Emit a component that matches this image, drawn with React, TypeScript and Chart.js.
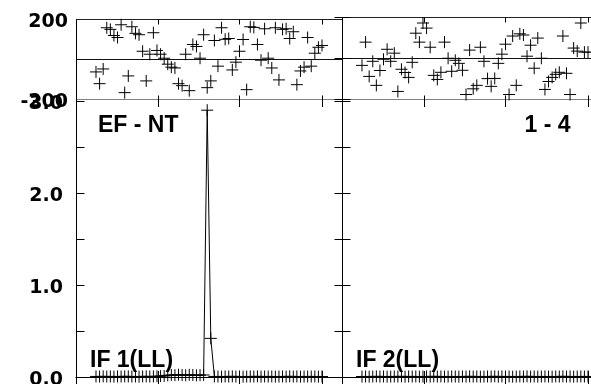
import React, { useEffect, useRef } from "react";
import { Chart, registerables } from "chart.js";

Chart.register(...registerables);

// ---------------- data ----------------
const CHANNELS: number[] = Array.from({ length: 64 }, (_, i) => i);

// IF 1 (left panel) phase in degrees, one value per channel
const PHASE_IF1: number[] = [
  -64, -123, -49, 158, 150, 119, 109, 173, -168, -84,
  163, 130, 123, 40, -109, 25, 133, 44, 25, 5,
  -25, -40, -44, -123, -133, 25, -158, 74, 64, 5,
  123, -143, -109, 94, -35, 158, 100, 104, -54, -15,
  40, 99, -153, 163, 160, 74, -5, 153, 5, -44,
  158, -104, 150, 153, 104, 138, -128, -59, -40, 109,
  -35, 30, 60, 69,
];

// IF 1 amplitude
const AMP_IF1: number[] = [
  0.006, 0.005, 0.007, 0.005, 0.006, 0.004, 0.006, 0.005, 0.007, 0.006,
  0.005, 0.006, 0.004, 0.006, 0.007, 0.005, 0.006, 0.008, 0.01, 0.012,
  0.018, 0.022, 0.02, 0.025, 0.021, 0.019, 0.024, 0.022, 0.018, 0.02,
  0.022, 2.9, 0.42, 0.006, 0.005, 0.004, 0.006, 0.005, 0.007, 0.005,
  0.006, 0.004, 0.005, 0.006, 0.005, 0.007, 0.004, 0.006, 0.005, 0.006,
  0.004, 0.005, 0.006, 0.005, 0.007, 0.005, 0.006, 0.004, 0.005, 0.006,
  0.005, 0.006, 0.004, 0.005,
];

// IF 2 (right panel) phase in degrees
const PHASE_IF2: number[] = [
  -35, 79, -89, -15, -133, -60, -5, 44, -15, 25,
  -163, -54, -70, -94, -20, 123, 79, 173, 148, 54,
  -84, -104, -69, 79, 0, -64, -10, -25, -59, -178,
  40, -150, -133, 54, -15, -100, -138, -99, -25, 20,
  69, -178, 109, -133, 120, 114, 10, 64, -49, 99,
  0, -153, -114, -94, -79, -69, 109, -74, -178, 50,
  35, 173, 30, 30,
];

// IF 2 amplitude
const AMP_IF2: number[] = [
  0.005, 0.006, 0.004, 0.005, 0.007, 0.005, 0.006, 0.004, 0.005, 0.006,
  0.005, 0.007, 0.004, 0.006, 0.005, 0.006, 0.004, 0.005, 0.006, 0.005,
  0.007, 0.005, 0.006, 0.004, 0.005, 0.006, 0.005, 0.004, 0.006, 0.005,
  0.007, 0.005, 0.006, 0.004, 0.005, 0.006, 0.005, 0.007, 0.004, 0.006,
  0.005, 0.006, 0.004, 0.005, 0.006, 0.005, 0.007, 0.005, 0.006, 0.004,
  0.005, 0.006, 0.005, 0.004, 0.006, 0.005, 0.007, 0.005, 0.006, 0.004,
  0.005, 0.006, 0.005, 0.006,
];

const PHASE_TICKS: number[] = [-200, 0, 200];
const PHASE_LABEL_TICKS: number[] = [-200, 200];
const AMP_TICKS: number[] = [0, 0.5, 1, 1.5, 2, 2.5, 3];
const AMP_LABEL_TICKS: number[] = [0, 1, 2, 3];
const CHANNEL_TICKS: number[] = [17.3, 40.1, 63];
const BASELINE_LABELS: string[] = ["EF - NT", "1 - 4"];
const IF_LABELS: string[] = ["IF 1(LL)", "IF 2(LL)"];

// ---------------- layout ----------------
const CANVAS_W = 620;
const CANVAS_H = 420;
const PANEL_X = [76, 342, 608];
const PHASE_TOP_PX = 17.5;
const PHASE_BOTTOM_PX = 99;
const AMP_TOP_PX = 101;
const AMP_ZERO_PX = 377;
const X_MIN = -5.575;
const X_MAX = 68.575;

const TICK_FONT = { family: "'DejaVu Sans', sans-serif", size: 19, weight: "bold" as const };
const LABEL_FONT = "bold 23px 'Liberation Sans', Arial, sans-serif";

const snap = (v: number) => Math.round(v - 0.5) + 0.5;

type Kind = "phase" | "amp";

function framePlugin(kind: Kind, side: number) {
  return {
    id: "frame" + kind + side,
    beforeDatasetsDraw(chart: any) {
      const { ctx, chartArea: a, scales } = chart;
      const x = scales.x;
      const y = scales.y;
      ctx.save();
      ctx.lineWidth = 1;
      const line = (x1: number, y1: number, x2: number, y2: number, color = "#000") => {
        ctx.strokeStyle = color;
        ctx.beginPath();
        ctx.moveTo(x1, y1);
        ctx.lineTo(x2, y2);
        ctx.stroke();
      };
      const xa = snap(a.left);
      if (kind === "phase") {
        const yT = snap(y.getPixelForValue(200));
        const y0 = snap(y.getPixelForValue(0));
        const yB = snap(y.getPixelForValue(-200));
        line(a.left, yT, a.right, yT, "#222");
        line(a.left, y0, a.right, y0, "#111");
        line(a.left, yB, a.right, yB, "#808080");
        line(xa, yT, xa, yB + 1, "#000");
        if (side === 1) {
          PHASE_TICKS.forEach((v) => {
            const py = snap(y.getPixelForValue(v));
            line(xa - 8, py, xa + 8, py);
          });
        }
        CHANNEL_TICKS.forEach((c) => {
          const px = snap(x.getPixelForValue(c));
          line(px, yT, px, yT + 5);
          line(px, yB - 4, px, yB);
        });
      } else {
        line(xa, a.top - 2, xa, CANVAS_H);
        AMP_TICKS.forEach((v) => {
          const py = snap(y.getPixelForValue(v));
          if (side === 0) line(xa - (v === 0 ? 1 : 0), py, xa + 8, py);
          else line(xa - 8, py, xa + 8, py);
        });
        const yz = snap(y.getPixelForValue(0));
        line(a.left, yz, a.right, yz, "#000");
        CHANNEL_TICKS.forEach((c) => {
          const px = snap(x.getPixelForValue(c));
          line(px, a.top - 2, px, a.top + 6);
          line(px, a.bottom - 6, px, CANVAS_H);
        });
      }
      ctx.restore();
    },
    afterDraw(chart: any) {
      if (kind !== "amp") return;
      const { ctx, chartArea: a } = chart;
      ctx.save();
      ctx.fillStyle = "#000";
      ctx.font = LABEL_FONT;
      ctx.textBaseline = "alphabetic";
      if (side === 0) {
        ctx.textAlign = "left";
        ctx.fillText(BASELINE_LABELS[0], a.left + 22, a.top + 30.5);
      } else {
        ctx.textAlign = "right";
        ctx.fillText(BASELINE_LABELS[1], a.right - 37.5, a.top + 30.5);
      }
      ctx.textAlign = "left";
      ctx.fillText(IF_LABELS[side], a.left + 14, a.bottom - 10);
      ctx.restore();
    },
  };
}

function buildChart(canvas: HTMLCanvasElement, kind: Kind, side: number, values: number[]) {
  const isPhase = kind === "phase";
  const padLeft = side === 0 ? 0 : PANEL_X[1];
  const padRight = CANVAS_W - PANEL_X[side + 1];
  const padTop = isPhase ? PHASE_TOP_PX : AMP_TOP_PX;
  const padBottom = CANVAS_H - (isPhase ? PHASE_BOTTOM_PX : AMP_ZERO_PX);
  const labelTicks = isPhase ? PHASE_LABEL_TICKS : AMP_LABEL_TICKS;
  return new Chart(canvas, {
    type: "scatter",
    data: {
      datasets: [
        {
          data: values.map((v, i) => ({ x: CHANNELS[i], y: v })),
          showLine: !isPhase,
          borderColor: "#000",
          borderWidth: 1,
          pointStyle: "cross",
          pointRadius: 6,
          pointHoverRadius: 6,
          pointBorderColor: "#000",
          pointBackgroundColor: "#000",
          pointBorderWidth: 1,
          clip: false,
        } as any,
      ],
    },
    options: {
      responsive: false,
      animation: false,
      events: [],
      layout: { padding: { left: padLeft, right: padRight, top: padTop, bottom: padBottom } },
      plugins: { legend: { display: false }, tooltip: { enabled: false } },
      scales: {
        x: { type: "linear", min: X_MIN, max: X_MAX, display: false },
        y: {
          type: "linear",
          position: "left",
          display: side === 0,
          min: isPhase ? -200 : 0,
          max: isPhase ? 200 : 3,
          afterBuildTicks: (s: any) => {
            s.ticks = labelTicks.map((v) => ({ value: v }));
          },
          afterFit: (s: any) => {
            s.width = side === 0 ? PANEL_X[0] : 0;
          },
          grid: { display: false, drawTicks: false },
          border: { display: false },
          ticks: {
            font: TICK_FONT,
            color: "#000",
            padding: isPhase ? 8 : 13,
            labelOffset: 3,
            autoSkip: false,
            callback: (v: any) => (isPhase ? String(v) : Number(v).toFixed(1)),
          },
        },
      },
    } as any,
    plugins: [framePlugin(kind, side)],
  });
}

export default function App() {
  const r1 = useRef<HTMLCanvasElement>(null);
  const r2 = useRef<HTMLCanvasElement>(null);
  const r3 = useRef<HTMLCanvasElement>(null);
  const r4 = useRef<HTMLCanvasElement>(null);

  useEffect(() => {
    const charts = [
      buildChart(r1.current!, "phase", 0, PHASE_IF1),
      buildChart(r2.current!, "phase", 1, PHASE_IF2),
      buildChart(r3.current!, "amp", 0, AMP_IF1),
      buildChart(r4.current!, "amp", 1, AMP_IF2),
    ];
    return () => charts.forEach((c) => c.destroy());
  }, []);

  const cs: React.CSSProperties = { position: "absolute", left: 0, top: 0 };
  return (
    <div
      style={{
        position: "fixed",
        left: 0,
        top: 0,
        width: 591,
        height: 384,
        overflow: "hidden",
        background: "#fff",
      }}
    >
      <canvas ref={r1} width={CANVAS_W} height={CANVAS_H} style={cs} />
      <canvas ref={r2} width={CANVAS_W} height={CANVAS_H} style={cs} />
      <canvas ref={r3} width={CANVAS_W} height={CANVAS_H} style={cs} />
      <canvas ref={r4} width={CANVAS_W} height={CANVAS_H} style={cs} />
    </div>
  );
}
